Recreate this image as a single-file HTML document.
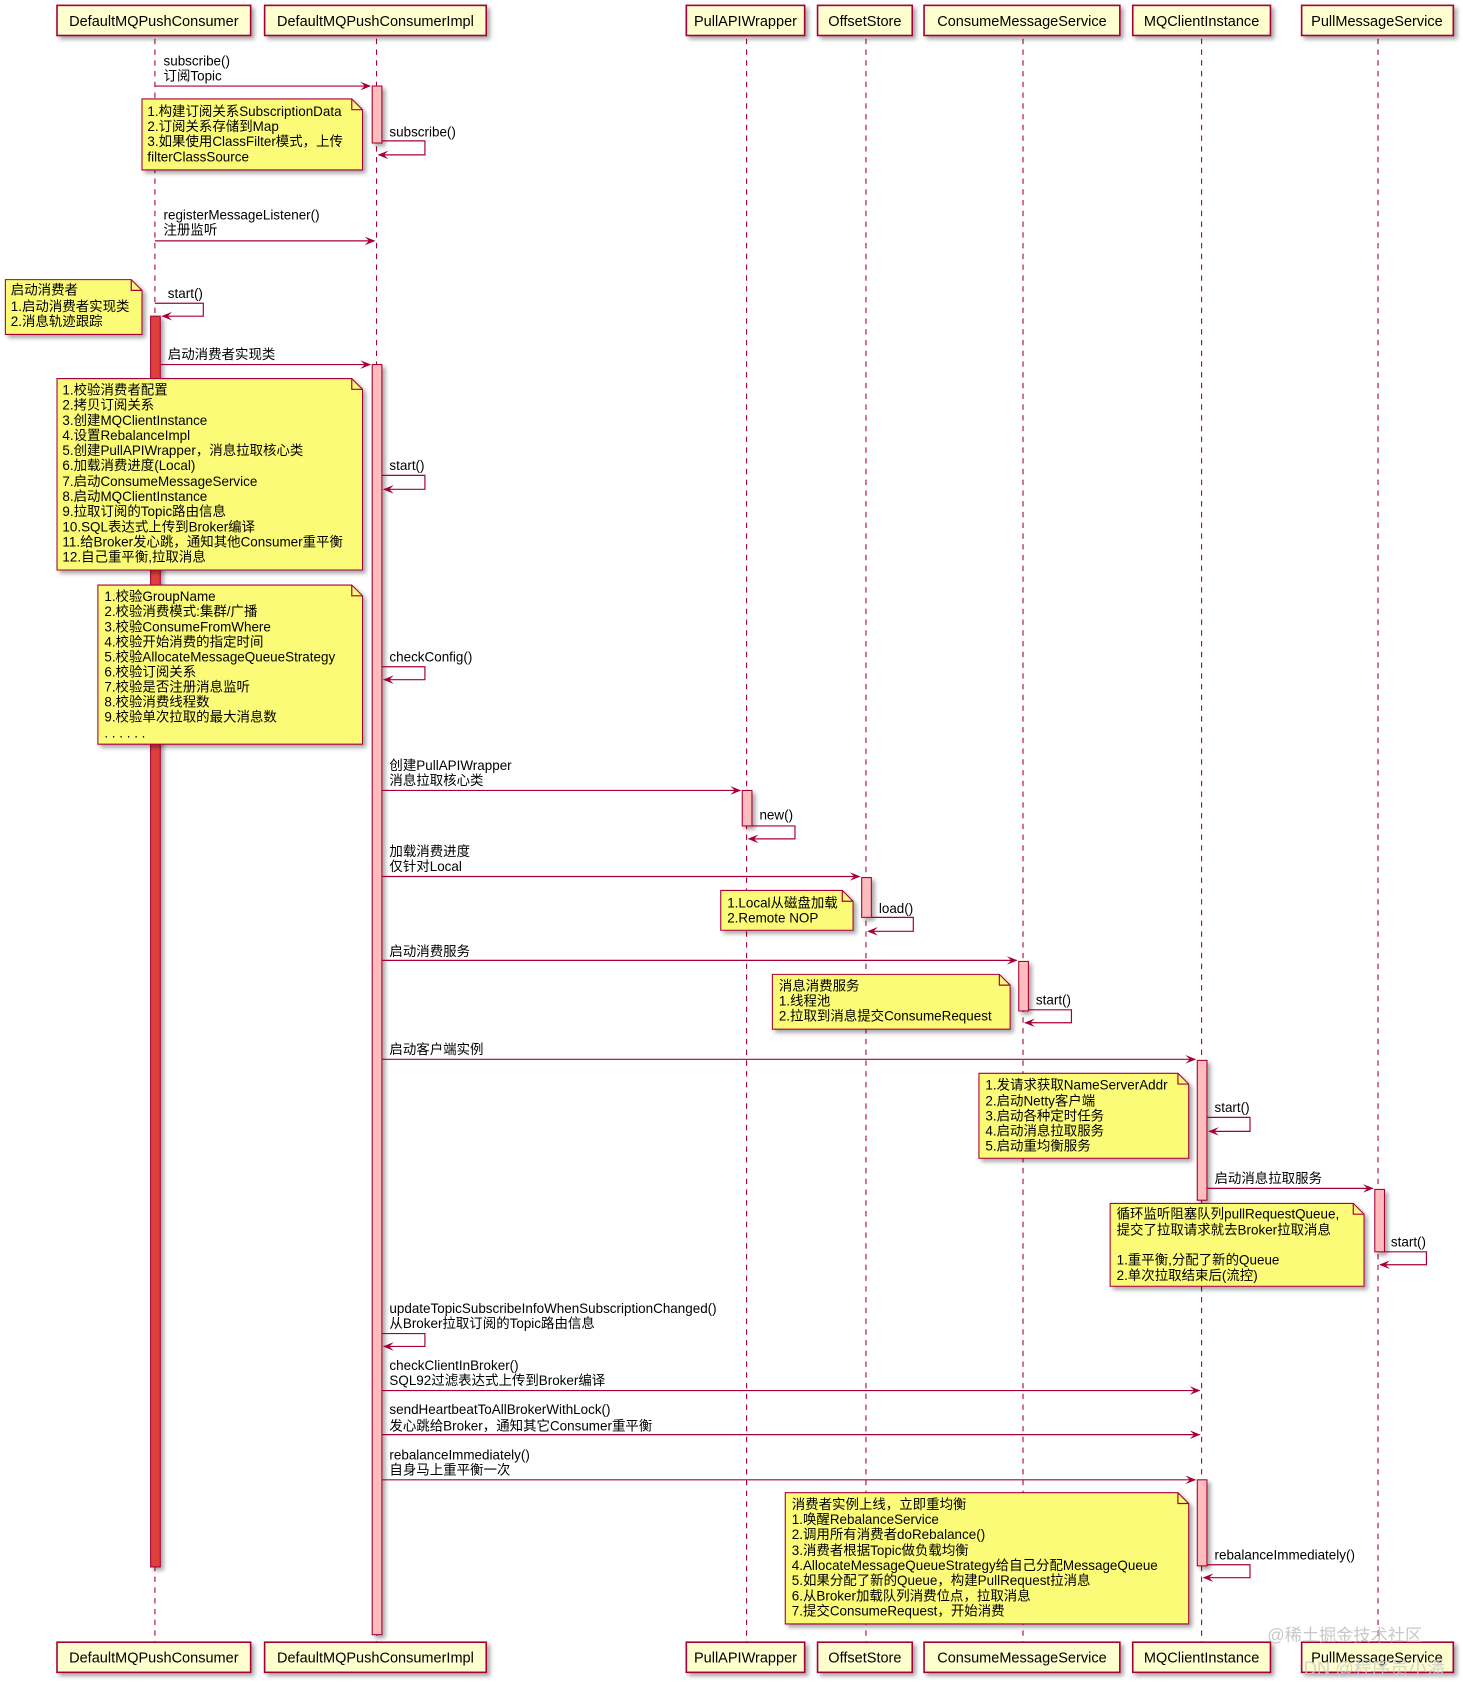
<!DOCTYPE html>
<html><head><meta charset="utf-8"><style>
html,body{margin:0;padding:0;background:#fff;}
svg{display:block;}
text{font-family:"Liberation Sans","Noto Sans CJK SC",sans-serif;font-size:12.5px;fill:#000;}
.h{font-size:13.5px;}
.ll{stroke:#a80036;stroke-width:1;stroke-dasharray:5,5;fill:none;}
.m{stroke:#a80036;stroke-width:1.1;fill:none;}
.ah{fill:#a80036;stroke:none;}
.box{fill:#fefece;stroke:#a80036;stroke-width:1.5;}
.note{fill:#fbfb77;stroke:#a80036;stroke-width:1;}
.act{fill:#ffbcbc;stroke:#a80036;stroke-width:1;}
.actr{fill:#e0403a;stroke:#a80036;stroke-width:1;}
</style></head><body>
<svg width="1463" height="1682" viewBox="0 0 1360 1564" preserveAspectRatio="none" xmlns="http://www.w3.org/2000/svg">
<defs>
<filter id="sh" x="-5%" y="-5%" width="115%" height="125%"><feGaussianBlur in="SourceAlpha" stdDeviation="2"/><feOffset dx="3" dy="3"/><feComponentTransfer><feFuncA type="linear" slope="0.35"/></feComponentTransfer><feMerge><feMergeNode/><feMergeNode in="SourceGraphic"/></feMerge></filter>
</defs>

<!-- lifelines -->
<line class="ll" x1="144" y1="36" x2="144" y2="1527"/>
<line class="ll" x1="350" y1="36" x2="350" y2="1527"/>
<line class="ll" x1="694" y1="36" x2="694" y2="1527"/>
<line class="ll" x1="805" y1="36" x2="805" y2="1527"/>
<line class="ll" x1="951" y1="36" x2="951" y2="1527"/>
<line class="ll" x1="1117" y1="36" x2="1117" y2="1527"/>
<line class="ll" x1="1281" y1="36" x2="1281" y2="1527"/>

<!-- header boxes -->
<g filter="url(#sh)">
<rect class="box" x="53" y="5" width="180" height="28"/>
<rect class="box" x="246" y="5" width="206" height="28"/>
<rect class="box" x="638" y="5" width="110" height="28"/>
<rect class="box" x="760" y="5" width="88" height="28"/>
<rect class="box" x="859" y="5" width="182" height="28"/>
<rect class="box" x="1053" y="5" width="128" height="28"/>
<rect class="box" x="1210" y="5" width="141" height="28"/>
<rect class="box" x="53" y="1527" width="180" height="28"/>
<rect class="box" x="246" y="1527" width="206" height="28"/>
<rect class="box" x="638" y="1527" width="110" height="28"/>
<rect class="box" x="760" y="1527" width="88" height="28"/>
<rect class="box" x="859" y="1527" width="182" height="28"/>
<rect class="box" x="1053" y="1527" width="128" height="28"/>
<rect class="box" x="1210" y="1527" width="141" height="28"/>
</g>
<g class="h">
<text class="h" x="143" y="24" text-anchor="middle">DefaultMQPushConsumer</text>
<text class="h" x="349" y="24" text-anchor="middle">DefaultMQPushConsumerImpl</text>
<text class="h" x="693" y="24" text-anchor="middle">PullAPIWrapper</text>
<text class="h" x="804" y="24" text-anchor="middle">OffsetStore</text>
<text class="h" x="950" y="24" text-anchor="middle">ConsumeMessageService</text>
<text class="h" x="1117" y="24" text-anchor="middle">MQClientInstance</text>
<text class="h" x="1280" y="24" text-anchor="middle">PullMessageService</text>
<text class="h" x="143" y="1546" text-anchor="middle">DefaultMQPushConsumer</text>
<text class="h" x="349" y="1546" text-anchor="middle">DefaultMQPushConsumerImpl</text>
<text class="h" x="693" y="1546" text-anchor="middle">PullAPIWrapper</text>
<text class="h" x="804" y="1546" text-anchor="middle">OffsetStore</text>
<text class="h" x="950" y="1546" text-anchor="middle">ConsumeMessageService</text>
<text class="h" x="1117" y="1546" text-anchor="middle">MQClientInstance</text>
<text class="h" x="1280" y="1546" text-anchor="middle">PullMessageService</text>
</g>

<!-- activations -->
<g filter="url(#sh)">
<rect class="act" x="346" y="80" width="9" height="53"/>
<rect class="actr" x="140" y="294" width="9" height="1163"/>
<rect class="act" x="346" y="339" width="9" height="1181"/>
<rect class="act" x="690" y="735" width="9" height="33"/>
<rect class="act" x="801" y="816" width="9" height="37"/>
<rect class="act" x="947" y="894" width="9" height="46"/>
<rect class="act" x="1113" y="986" width="9" height="130"/>
<rect class="act" x="1278" y="1106" width="9" height="58"/>
<rect class="act" x="1113" y="1376" width="9" height="80"/>
</g>

<!-- messages -->
<text x="152" y="61">subscribe()</text><text x="152" y="75">订阅Topic</text>
<line class="m" x1="144" y1="80" x2="344" y2="80"/><path class="ah" d="M345,80 l-10,-4 l4,4 l-4,4z"/>

<text x="362" y="127">subscribe()</text>
<path class="m" d="M355,131 H395 V144 H352"/><path class="ah" d="M351,144 l10,-4 l-4,4 l4,4z"/>

<text x="152" y="204">registerMessageListener()</text><text x="152" y="218">注册监听</text>
<line class="m" x1="144" y1="224" x2="348" y2="224"/><path class="ah" d="M349,224 l-10,-4 l4,4 l-4,4z"/>

<text x="156" y="277">start()</text>
<path class="m" d="M144,282 H189 V294 H151"/><path class="ah" d="M150,294 l10,-4 l-4,4 l4,4z"/>

<text x="156" y="334">启动消费者实现类</text>
<line class="m" x1="149" y1="339" x2="344" y2="339"/><path class="ah" d="M345,339 l-10,-4 l4,4 l-4,4z"/>

<text x="362" y="437">start()</text>
<path class="m" d="M355,442 H395 V455 H357"/><path class="ah" d="M356,455 l10,-4 l-4,4 l4,4z"/>

<text x="362" y="615">checkConfig()</text>
<path class="m" d="M355,620 H395 V632 H357"/><path class="ah" d="M356,632 l10,-4 l-4,4 l4,4z"/>

<text x="362" y="716">创建PullAPIWrapper</text><text x="362" y="730">消息拉取核心类</text>
<line class="m" x1="355" y1="735" x2="688" y2="735"/><path class="ah" d="M689,735 l-10,-4 l4,4 l-4,4z"/>
<text x="706" y="762">new()</text>
<path class="m" d="M699,768 H739 V780 H696"/><path class="ah" d="M695,780 l10,-4 l-4,4 l4,4z"/>

<text x="362" y="796">加载消费进度</text><text x="362" y="810">仅针对Local</text>
<line class="m" x1="355" y1="815" x2="799" y2="815"/><path class="ah" d="M800,815 l-10,-4 l4,4 l-4,4z"/>
<text x="817" y="849">load()</text>
<path class="m" d="M810,853 H849 V866 H807"/><path class="ah" d="M806,866 l10,-4 l-4,4 l4,4z"/>

<text x="362" y="889">启动消费服务</text>
<line class="m" x1="355" y1="893" x2="945" y2="893"/><path class="ah" d="M946,893 l-10,-4 l4,4 l-4,4z"/>
<text x="963" y="934">start()</text>
<path class="m" d="M956,939 H996 V951 H953"/><path class="ah" d="M952,951 l10,-4 l-4,4 l4,4z"/>

<text x="362" y="980">启动客户端实例</text>
<line class="m" x1="355" y1="985" x2="1111" y2="985"/><path class="ah" d="M1112,985 l-10,-4 l4,4 l-4,4z"/>
<text x="1129" y="1034">start()</text>
<path class="m" d="M1122,1039 H1162 V1052 H1124"/><path class="ah" d="M1123,1052 l10,-4 l-4,4 l4,4z"/>

<text x="1129" y="1100">启动消息拉取服务</text>
<line class="m" x1="1122" y1="1105" x2="1276" y2="1105"/><path class="ah" d="M1277,1105 l-10,-4 l4,4 l-4,4z"/>
<text x="1293" y="1159">start()</text>
<path class="m" d="M1287,1164 H1326 V1176 H1283"/><path class="ah" d="M1282,1176 l10,-4 l-4,4 l4,4z"/>

<text x="362" y="1221">updateTopicSubscribeInfoWhenSubscriptionChanged()</text><text x="362" y="1235">从Broker拉取订阅的Topic路由信息</text>
<path class="m" d="M355,1240 H395 V1252 H357"/><path class="ah" d="M356,1252 l10,-4 l-4,4 l4,4z"/>

<text x="362" y="1274">checkClientInBroker()</text><text x="362" y="1288">SQL92过滤表达式上传到Broker编译</text>
<line class="m" x1="355" y1="1293" x2="1115" y2="1293"/><path class="ah" d="M1116,1293 l-10,-4 l4,4 l-4,4z"/>

<text x="362" y="1315">sendHeartbeatToAllBrokerWithLock()</text><text x="362" y="1330">发心跳给Broker，通知其它Consumer重平衡</text>
<line class="m" x1="355" y1="1334" x2="1115" y2="1334"/><path class="ah" d="M1116,1334 l-10,-4 l4,4 l-4,4z"/>

<text x="362" y="1357">rebalanceImmediately()</text><text x="362" y="1371">自身马上重平衡一次</text>
<line class="m" x1="355" y1="1376" x2="1111" y2="1376"/><path class="ah" d="M1112,1376 l-10,-4 l4,4 l-4,4z"/>
<text x="1129" y="1450">rebalanceImmediately()</text>
<path class="m" d="M1122,1455 H1162 V1467 H1119"/><path class="ah" d="M1118,1467 l10,-4 l-4,4 l4,4z"/>

<!-- notes -->
<g filter="url(#sh)">
<path class="note" d="M132,92 H327 L337,102 V158 H132 Z"/>
<path class="note" d="M5,260 H122 L132,270 V311 H5 Z"/>
<path class="note" d="M53,352 H327 L337,362 V530 H53 Z"/>
<path class="note" d="M91,544 H327 L337,554 V692 H91 Z"/>
<path class="note" d="M670,828 H783 L793,838 V865 H670 Z"/>
<path class="note" d="M718,906 H929 L939,916 V957 H718 Z"/>
<path class="note" d="M910,998 H1095 L1105,1008 V1077 H910 Z"/>
<path class="note" d="M1032,1119 H1258 L1268,1129 V1196 H1032 Z"/>
<path class="note" d="M730,1388 H1095 L1105,1398 V1510 H730 Z"/>
</g>
<g class="m">
<path class="m" d="M327,92 V102 H337"/><path class="m" d="M122,260 V270 H132"/><path class="m" d="M327,352 V362 H337"/>
<path class="m" d="M327,544 V554 H337"/><path class="m" d="M783,828 V838 H793"/><path class="m" d="M929,906 V916 H939"/>
<path class="m" d="M1095,998 V1008 H1105"/><path class="m" d="M1258,1119 V1129 H1268"/><path class="m" d="M1095,1388 V1398 H1105"/>
</g>

<text x="137" y="108">1.构建订阅关系SubscriptionData</text>
<text x="137" y="122">2.订阅关系存储到Map</text>
<text x="137" y="136">3.如果使用ClassFilter模式，上传</text>
<text x="137" y="150">filterClassSource</text>

<text x="10" y="274">启动消费者</text>
<text x="10" y="289">1.启动消费者实现类</text>
<text x="10" y="303">2.消息轨迹跟踪</text>

<text x="58" y="367">1.校验消费者配置</text>
<text x="58" y="381">2.拷贝订阅关系</text>
<text x="58" y="395">3.创建MQClientInstance</text>
<text x="58" y="409">4.设置RebalanceImpl</text>
<text x="58" y="423">5.创建PullAPIWrapper，消息拉取核心类</text>
<text x="58" y="437">6.加载消费进度(Local)</text>
<text x="58" y="452">7.启动ConsumeMessageService</text>
<text x="58" y="466">8.启动MQClientInstance</text>
<text x="58" y="480">9.拉取订阅的Topic路由信息</text>
<text x="58" y="494">10.SQL表达式上传到Broker编译</text>
<text x="58" y="508">11.给Broker发心跳，通知其他Consumer重平衡</text>
<text x="58" y="522">12.自己重平衡,拉取消息</text>

<text x="97" y="559">1.校验GroupName</text>
<text x="97" y="573">2.校验消费模式:集群/广播</text>
<text x="97" y="587">3.校验ConsumeFromWhere</text>
<text x="97" y="601">4.校验开始消费的指定时间</text>
<text x="97" y="615">5.校验AllocateMessageQueueStrategy</text>
<text x="97" y="629">6.校验订阅关系</text>
<text x="97" y="643">7.校验是否注册消息监听</text>
<text x="97" y="657">8.校验消费线程数</text>
<text x="97" y="671">9.校验单次拉取的最大消息数</text>
<text x="97" y="686">. . . . . .</text>

<text x="676" y="844">1.Local从磁盘加载</text>
<text x="676" y="858">2.Remote NOP</text>

<text x="724" y="921">消息消费服务</text>
<text x="724" y="935">1.线程池</text>
<text x="724" y="949">2.拉取到消息提交ConsumeRequest</text>

<text x="916" y="1013">1.发请求获取NameServerAddr</text>
<text x="916" y="1028">2.启动Netty客户端</text>
<text x="916" y="1042">3.启动各种定时任务</text>
<text x="916" y="1056">4.启动消息拉取服务</text>
<text x="916" y="1070">5.启动重均衡服务</text>

<text x="1038" y="1133">循环监听阻塞队列pullRequestQueue,</text>
<text x="1038" y="1148">提交了拉取请求就去Broker拉取消息</text>
<text x="1038" y="1176">1.重平衡,分配了新的Queue</text>
<text x="1038" y="1190">2.单次拉取结束后(流控)</text>

<text x="736" y="1403">消费者实例上线，立即重均衡</text>
<text x="736" y="1417">1.唤醒RebalanceService</text>
<text x="736" y="1431">2.调用所有消费者doRebalance()</text>
<text x="736" y="1446">3.消费者根据Topic做负载均衡</text>
<text x="736" y="1460">4.AllocateMessageQueueStrategy给自己分配MessageQueue</text>
<text x="736" y="1474">5.如果分配了新的Queue，构建PullRequest拉消息</text>
<text x="736" y="1488">6.从Broker加载队列消费位点，拉取消息</text>
<text x="736" y="1502">7.提交ConsumeRequest，开始消费</text>

<!-- watermarks -->
<text x="1178" y="1526" style="font-size:16px;fill:#bbb;opacity:0.8">@稀土掘金技术社区</text>
<text x="1212" y="1557" style="font-size:17px;fill:#ccc;opacity:0.8">DN @程序员小潘</text>
</svg>
</body></html>
